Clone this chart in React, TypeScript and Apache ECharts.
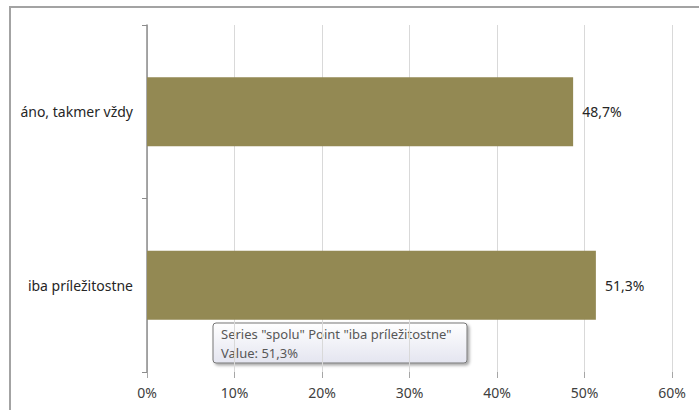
import React, { useEffect, useRef } from "react";
import * as echarts from "echarts";

const categories = ["áno, takmer vždy", "iba príležitostne"];
const seriesName = "spolu";
const values = [48.7, 51.3];
const axisMax = 60;
const axisInterval = 10;

const fmt = (v: number) => v.toFixed(1).replace(".", ",") + "%";

export default function App() {
  const ref = useRef<HTMLDivElement>(null);
  useEffect(() => {
    if (!ref.current) return;
    const chart = echarts.init(ref.current, null, { renderer: "svg" });
    const font = "Noto Sans";
    const tipIndex = 1;
    chart.setOption({
      animation: false,
      backgroundColor: "#ffffff",
      textStyle: { fontFamily: font },
      grid: { left: 147, right: 27, top: 25, bottom: 38, containLabel: false },
      xAxis: {
        type: "value",
        min: 0,
        max: axisMax,
        interval: axisInterval,
        axisLine: { show: false },
        axisTick: { show: true, length: 6, lineStyle: { color: "#a6a6a6" } },
        splitLine: { show: true, lineStyle: { color: "#d9d9d9", width: 1 } },
        axisLabel: {
          formatter: "{value}%",
          color: "#404040",
          fontSize: 14,
          fontFamily: font,
          margin: 13,
        },
      },
      yAxis: {
        type: "category",
        inverse: true,
        data: categories,
        axisLine: { show: true, lineStyle: { color: "#8c8c8c", width: 1.5 } },
        axisTick: { show: true, length: 5, lineStyle: { color: "#8c8c8c" } },
        axisLabel: { color: "#262626", fontSize: 14, fontFamily: font, margin: 14 },
        splitLine: { show: false },
      },
      series: [
        {
          name: seriesName,
          type: "bar",
          data: values,
          barWidth: 69,
          itemStyle: { color: "#938953" },
          label: {
            show: true,
            position: "right",
            distance: 9,
            color: "#262626",
            fontSize: 14,
            fontFamily: font,
            formatter: (p: any) => fmt(p.value),
          },
        },
      ],
      graphic: [
        {
          type: "rect",
          z: 1,
          silent: true,
          shape: { x: 10, y: 7, width: 720, height: 440 },
          style: { fill: "none", stroke: "#a3a3a3", lineWidth: 2 },
        },
        {
          type: "rect",
          z: 0,
          silent: true,
          shape: { x: 137, y: 20, width: 9, height: 8 },
          style: { fill: "#ffffff" },
        },
        {
          type: "group",
          z: 100,
          children: [
            {
              type: "rect",
              shape: { x: 213, y: 323, width: 254, height: 40, r: 3 },
              style: {
                fill: new echarts.graphic.LinearGradient(0, 0, 0, 1, [
                  { offset: 0, color: "#ffffff" },
                  { offset: 1, color: "#e4e5f0" },
                ]),
                stroke: "#767676",
                lineWidth: 1,
                shadowBlur: 3,
                shadowOffsetX: 2,
                shadowOffsetY: 2,
                shadowColor: "rgba(0,0,0,0.35)",
              },
            },
            {
              type: "text",
              style: {
                x: 221,
                y: 334,
                text: `Series "${seriesName}" Point "${categories[tipIndex]}"`,
                fill: "#575757",
                fontSize: 13,
                fontFamily: font,
                verticalAlign: "middle",
                align: "left",
              },
            },
            {
              type: "text",
              style: {
                x: 221,
                y: 353,
                text: `Value: ${fmt(values[tipIndex])}`,
                fill: "#575757",
                fontSize: 13,
                fontFamily: font,
                verticalAlign: "middle",
                align: "left",
              },
            },
          ],
        },
      ],
    });
    return () => chart.dispose();
  }, []);
  return (
    <div
      ref={ref}
      style={{ position: "fixed", left: 0, top: 0, width: 699, height: 410 }}
    />
  );
}
